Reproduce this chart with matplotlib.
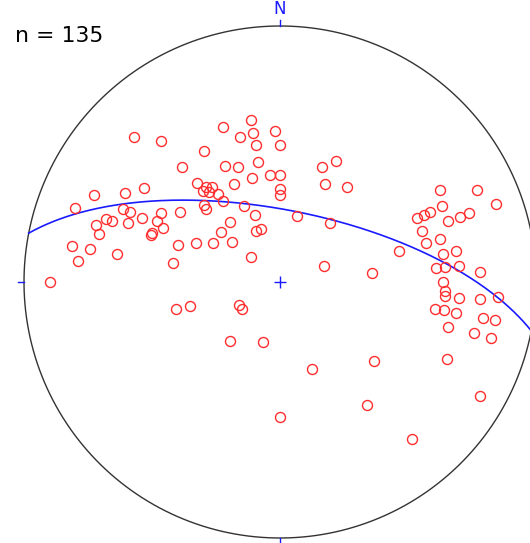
import numpy as np
import matplotlib
matplotlib.use("Agg")
import matplotlib.pyplot as plt

# Poles, in projected net coordinates (east, north), net radius = 1
pole_east = [
    -0.569, -0.465, -0.383, -0.298, -0.223, -0.114, -0.155, -0.105, -0.021, -0.095,
    -0.001, -0.085, -0.214, -0.164, -0.039, 0.000, -0.109, -0.179, 0.000, 0.001,
    0.165, 0.220, 0.177, 0.261, 0.066, 0.195, -0.324, -0.290, -0.266, -0.299,
    -0.276, -0.242, -0.223, -0.297, -0.290, -0.139, -0.096, -0.196, -0.232, -0.093,
    -0.075, -0.328, -0.263, -0.188, -0.113, -0.531, -0.728, -0.607, -0.802, -0.615,
    -0.587, -0.680, -0.658, -0.719, -0.707, -0.595, -0.538, -0.463, -0.479, -0.456,
    -0.499, -0.504, -0.392, -0.811, -0.742, -0.638, -0.788, -0.397, -0.417, -0.900,
    0.170, 0.361, -0.407, -0.351, -0.161, -0.150, -0.197, -0.066, 0.125, 0.366,
    0.340, -0.001, 0.517, 0.654, 0.780, 0.624, 0.771, 0.845, 0.634, 0.537,
    0.564, 0.587, 0.657, 0.705, 0.737, 0.555, 0.572, 0.624, 0.689, 0.464,
    0.638, 0.609, 0.646, 0.699, 0.782, 0.636, 0.646, 0.646, 0.698, 0.780,
    0.852, 0.605, 0.639, 0.689, 0.792, 0.839, 0.656, 0.757, 0.823,
]
pole_north = [
    0.565, 0.551, 0.451, 0.510, 0.604, 0.634, 0.568, 0.581, 0.589, 0.535,
    0.534, 0.470, 0.453, 0.448, 0.418, 0.418, 0.405, 0.382, 0.362, 0.338,
    0.449, 0.474, 0.382, 0.372, 0.257, 0.232, 0.385, 0.372, 0.373, 0.354,
    0.350, 0.344, 0.315, 0.299, 0.287, 0.296, 0.263, 0.233, 0.195, 0.199,
    0.206, 0.152, 0.152, 0.156, 0.098, 0.369, 0.338, 0.348, 0.291, 0.284,
    0.272, 0.247, 0.238, 0.221, 0.188, 0.229, 0.250, 0.271, 0.240, 0.210,
    0.192, 0.184, 0.275, 0.142, 0.130, 0.111, 0.083, 0.145, 0.074, -0.001,
    0.064, 0.034, -0.107, -0.092, -0.090, -0.106, -0.230, -0.234, -0.339, -0.307,
    -0.482, -0.526, -0.613, -0.302, -0.446, 0.359, 0.359, 0.306, 0.295, 0.251,
    0.261, 0.272, 0.240, 0.255, 0.268, 0.201, 0.152, 0.167, 0.122, 0.123,
    0.111, 0.053, 0.057, 0.063, 0.041, 0.001, -0.037, -0.054, -0.061, -0.068,
    -0.058, -0.106, -0.111, -0.120, -0.139, -0.148, -0.176, -0.200, -0.220,
]

# Mean plane (right-hand rule strike, dip) drawn as a great circle
plane_strike = 281.0
plane_dip = 67.0

count_label = "n = 135"


def great_circle(strike, dip, n=361):
    """Equal-area (Schmidt) lower-hemisphere projection of a plane."""
    s = np.radians(strike)
    d = np.radians(dip)
    rake = np.linspace(0.0, np.pi, n)
    plunge = np.arcsin(np.sin(rake) * np.sin(d))
    trend = s + np.arctan2(np.sin(rake) * np.cos(d), np.cos(rake))
    r = np.sqrt(2.0) * np.sin((np.pi / 2 - plunge) / 2.0)
    return r * np.sin(trend), r * np.cos(trend)


W, H = 530, 543
fig = plt.figure(figsize=(W / 100, H / 100), dpi=100)
cx, cy, R = 280, 282, 256
ax = fig.add_axes([(cx - R) / W, (H - cy - R) / H, 2 * R / W, 2 * R / H])
ax.set_xlim(-1, 1)
ax.set_ylim(-1, 1)
ax.axis("off")

blue = "#1a1aff"
red = "#ff2d2d"

# primitive circle
t = np.linspace(0, 2 * np.pi, 721)
ax.plot(np.cos(t), np.sin(t), color="#333333", lw=1.0, clip_on=False)

# cardinal ticks and centre cross
tk = 6 / R
ax.plot([0, 0], [1, 1 + tk], color=blue, lw=1.0, clip_on=False)
ax.plot([0, 0], [-1, -1 - tk], color=blue, lw=1.0, clip_on=False)
ax.plot([-1, -1 - tk], [0, 0], color=blue, lw=1.0, clip_on=False)
ax.plot([1, 1 + tk], [0, 0], color=blue, lw=1.0, clip_on=False)
ax.plot([0], [0], marker="+", color=blue, markersize=8, mew=1.0)
ax.text(0, 1 + 8 / R, "N", color=blue, ha="center", va="bottom",
        fontsize=12, clip_on=False)

# great circle
gx, gy = great_circle(plane_strike, plane_dip)
ax.plot(gx, gy, color=blue, lw=1.2, clip_on=False)

# poles
ax.plot(pole_east, pole_north, linestyle="none", marker="o", markersize=7.2,
        markerfacecolor="none", markeredgecolor=red, markeredgewidth=1.0)

fig.text(15 / W, 1 - 41.5 / H, count_label, fontsize=15.8, ha="left",
         va="baseline", color="black")

fig.savefig("out.png", dpi=100)
